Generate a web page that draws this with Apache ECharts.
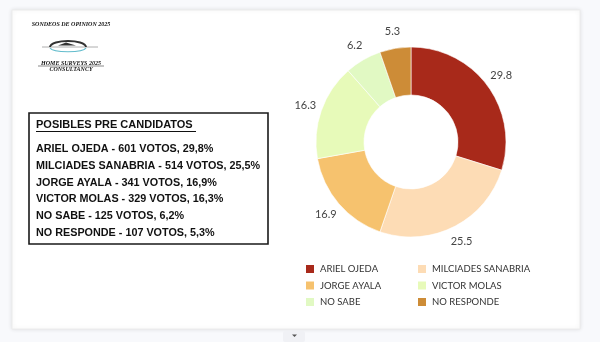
<!DOCTYPE html>
<html>
<head>
<meta charset="utf-8">
<script src="https://cdn.jsdelivr.net/npm/echarts@6/dist/echarts.min.js"></script>
<style>
html,body{margin:0;padding:0;background:#f8f9fc;}
#c{width:600px;height:342px;}
</style>
</head>
<body>
<div id="c"></div>
<script>
// ---- data ----
const candidates = ['ARIEL OJEDA', 'MILCIADES SANABRIA', 'JORGE AYALA', 'VICTOR MOLAS', 'NO SABE', 'NO RESPONDE'];
const votes = [601, 514, 341, 329, 125, 107];
const shares = [29.8, 25.5, 16.9, 16.3, 6.2, 5.3];
const shareText = ['29,8', '25,5', '16,9', '16,3', '6,2', '5,3'];
const colors = ['#a8291a', '#fddcb5', '#f6c26e', '#e7fab9', '#e1f9c3', '#cd8c37'];
const boxTitle = 'POSIBLES PRE CANDIDATOS';
const headerTitle = 'SONDEOS DE OPINION 2025';
const logoLines = ['HOME SURVEYS 2025', 'CONSULTANCY'];
const legendLeft = [candidates[0], candidates[2], candidates[4]];
const legendRight = [candidates[1], candidates[3], candidates[5]];

const chart = echarts.init(document.getElementById('c'), null, {renderer: 'canvas'});

const pieData = candidates.map((n, i) => ({name: n, value: shares[i], itemStyle: {color: colors[i]}}));

function txt(x, y, text, font, align, extra) {
  return Object.assign({
    type: 'text', x: x, y: y, silent: true,
    style: {text: text, font: font, fill: '#111',
      align: align || 'left', verticalAlign: 'middle',
      textAlign: align || 'left', textVerticalAlign: 'middle'}
  }, extra || {});
}

const graphics = [];
// card
graphics.push({type: 'rect', z: -10, silent: true, shape: {x: 12, y: 10, width: 568, height: 319},
  style: {fill: '#ffffff', stroke: '#ececec', lineWidth: 1, shadowBlur: 4, shadowColor: 'rgba(0,0,0,0.10)'}});
// bottom tab
graphics.push({type: 'rect', z: -9, silent: true, shape: {x: 283, y: 331, width: 22, height: 11, r: 2},
  style: {fill: '#f0f1f5'}});
graphics.push({type: 'polygon', z: -8, silent: true, shape: {points: [[292, 334.5], [297, 334.5], [294.5, 337]]},
  style: {fill: '#555'}});
// header
graphics.push(txt(71, 24, headerTitle, 'italic bold 6px "Liberation Serif"', 'center'));
// logo
graphics.push({type: 'line', silent: true, shape: {x1: 42, y1: 47, x2: 98, y2: 47}, style: {stroke: '#9a9a9a', lineWidth: 0.8}});
graphics.push({type: 'bezierCurve', silent: true, shape: {x1: 50, y1: 47, x2: 86, y2: 47, cpx1: 51, cpy1: 39, cpx2: 85, cpy2: 39},
  style: {stroke: '#333', lineWidth: 2, fill: null}});
graphics.push({type: 'bezierCurve', silent: true, shape: {x1: 50, y1: 48, x2: 86, y2: 48, cpx1: 53, cpy1: 53, cpx2: 83, cpy2: 53},
  style: {stroke: '#62bccc', lineWidth: 1.2, fill: null}});
graphics.push({type: 'polygon', silent: true, shape: {points: [[58, 45.5], [66, 42.5], [76, 45.5]]}, style: {fill: '#333'}});
graphics.push(txt(71, 63, logoLines[0], 'italic bold 6px "Liberation Serif"', 'center'));
graphics.push(txt(71, 69.5, logoLines[1], 'italic bold 6px "Liberation Serif"', 'center'));
graphics.push({type: 'line', silent: true, shape: {x1: 38, y1: 66, x2: 104, y2: 66}, style: {stroke: '#111', lineWidth: 0.5}});
// text box
graphics.push({type: 'rect', silent: true, shape: {x: 29, y: 113, width: 239, height: 131},
  style: {fill: null, stroke: '#1a1a1a', lineWidth: 1.6}});
graphics.push(txt(36, 125, boxTitle, 'bold 11px "Liberation Sans"', 'left'));
graphics.push({type: 'line', silent: true, shape: {x1: 36, y1: 131.5, x2: 196, y2: 131.5}, style: {stroke: '#111', lineWidth: 1}});
candidates.forEach((n, i) => {
  graphics.push(txt(36, 149 + i * 16.8, n + ' - ' + votes[i] + ' VOTOS, ' + shareText[i] + '%', 'bold 10.8px "Liberation Sans"', 'left'));
});

const legendCommon = {
  orient: 'vertical', itemWidth: 10, itemHeight: 10, itemGap: 4.5, padding: 0, top: 263,
  icon: 'rect', selectedMode: false,
  textStyle: {fontFamily: 'Lato', fontSize: 9.5, color: '#333', lineHeight: 12}
};

chart.setOption({
  animation: false,
  backgroundColor: '#f8f9fc',
  legend: [
    Object.assign({}, legendCommon, {left: 304, data: legendLeft}),
    Object.assign({}, legendCommon, {left: 416, data: legendRight})
  ],
  series: [
    {
      type: 'pie', center: [411, 142], radius: [47, 95], startAngle: 90, clockwise: true,
      data: pieData, label: {show: false}, labelLine: {show: false},
      itemStyle: {borderColor: '#fff', borderWidth: 0.6},
      emphasis: {disabled: true}, silent: true
    },
    {
      type: 'pie', center: [411, 142], radius: [95, 123], startAngle: 90, clockwise: true,
      data: shares.map((v, i) => ({name: candidates[i], value: v})),
      itemStyle: {color: 'rgba(0,0,0,0)'},
      label: {show: true, position: 'inside', color: '#444', fontFamily: 'Lato', fontSize: 11,
        formatter: p => p.value.toFixed(1)},
      labelLine: {show: false}, emphasis: {disabled: true}, silent: true
    }
  ],
  graphic: graphics
});
</script>
</body>
</html>
